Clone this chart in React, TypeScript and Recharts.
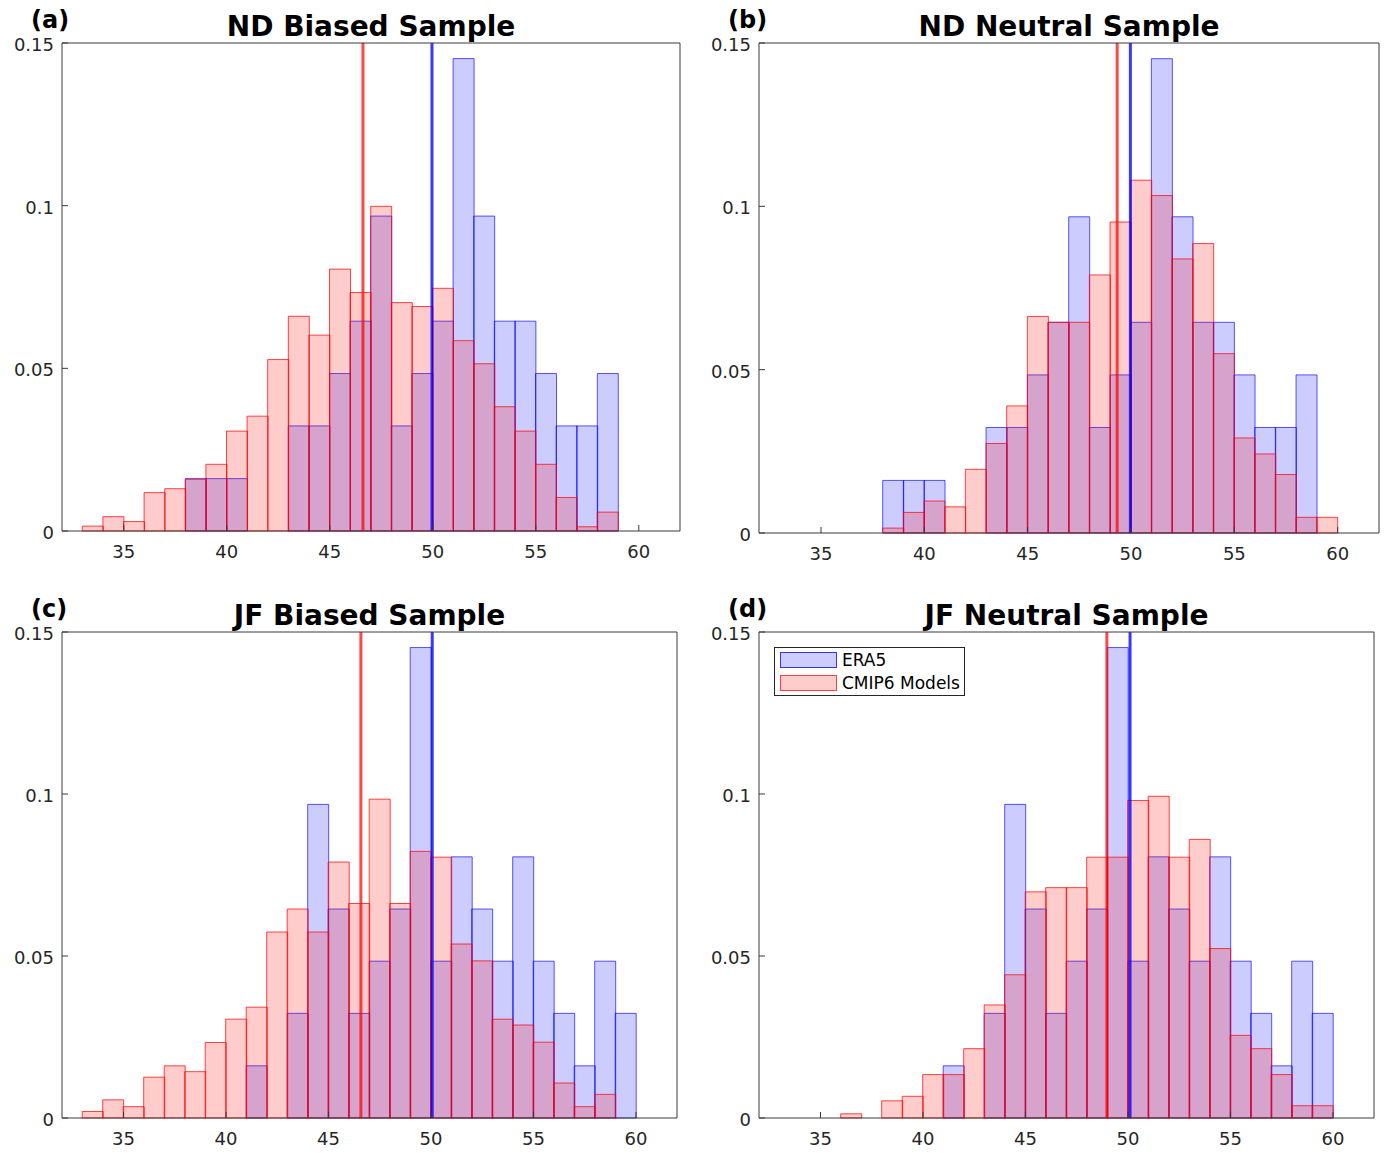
import React from 'react';
import { ComposedChart, Bar, XAxis, YAxis, ReferenceLine, Legend } from 'recharts';

// Histogram bins: lower edges (bin width 1)
const binStarts = [33, 34, 35, 36, 37, 38, 39, 40, 41, 42, 43, 44, 45, 46, 47, 48, 49, 50, 51, 52, 53, 54, 55, 56, 57, 58, 59];
const xTicks = [35, 40, 45, 50, 55, 60];
const yTicks = [0, 0.05, 0.1, 0.15];

// ERA5 (same observations in both samples of a season)
const era5ND = [null, null, null, null, null, 0.0161, 0.0161, 0.0161, null, null, 0.0323, 0.0323, 0.0484, 0.0645, 0.0968, 0.0323, 0.0484, 0.0645, 0.1452, 0.0968, 0.0645, 0.0645, 0.0484, 0.0323, 0.0323, 0.0484, null];
const era5JF = [null, null, null, null, null, null, null, null, 0.0161, null, 0.0323, 0.0968, 0.0645, 0.0323, 0.0484, 0.0645, 0.1452, 0.0484, 0.0806, 0.0645, 0.0484, 0.0806, 0.0484, 0.0323, 0.0161, 0.0484, 0.0323];

// CMIP6 models
const cmipNDBiased = [0.0015, 0.0044, 0.0029, 0.0118, 0.013, 0.0159, 0.0205, 0.0307, 0.0353, 0.0527, 0.066, 0.0602, 0.0805, 0.0733, 0.0998, 0.0702, 0.069, 0.0746, 0.0585, 0.0514, 0.0382, 0.0307, 0.0205, 0.0103, 0.0013, 0.0058, null];
const cmipNDNeutral = [null, null, null, null, null, 0.0015, 0.0063, 0.0098, 0.008, 0.0195, 0.0274, 0.0389, 0.0663, 0.0645, 0.0645, 0.079, 0.0952, 0.108, 0.1033, 0.0839, 0.0886, 0.0549, 0.0291, 0.0242, 0.0179, 0.0048, 0.0048];
const cmipJFBiased = [0.002, 0.0056, 0.0035, 0.0126, 0.0161, 0.0143, 0.0233, 0.0305, 0.0342, 0.0574, 0.0645, 0.0574, 0.079, 0.0662, 0.0984, 0.0662, 0.0823, 0.0805, 0.0537, 0.0485, 0.0305, 0.0287, 0.0234, 0.0108, 0.0035, 0.0073, null];
const cmipJFNeutral = [null, null, null, 0.0013, null, 0.0053, 0.0067, 0.0134, 0.0134, 0.0214, 0.0349, 0.0442, 0.0698, 0.0711, 0.0711, 0.0805, 0.0805, 0.098, 0.0993, 0.0805, 0.086, 0.0523, 0.0255, 0.0214, 0.0134, 0.0038, 0.0038];

// Sample means (vertical lines)
const meansCmip = [46.61, 49.33, 46.58, 48.97];
const meansEra5 = [49.96, 49.97, 50.06, 50.1];

const panelTitles = ['ND Biased Sample', 'ND Neutral Sample', 'JF Biased Sample', 'JF Neutral Sample'];
const panelLetters = ['(a)', '(b)', '(c)', '(d)'];

const FONT = 'DejaVu Sans';
const AXIS = '#3a3a3a';
const TEXT = '#262626';

const buildRows = (era: (number | null)[], cmip: (number | null)[]) =>
  binStarts.map((b, i) => ({ x: b + 0.5, era5: era[i], cmip: cmip[i] }));

const panelData = [
  buildRows(era5ND, cmipNDBiased),
  buildRows(era5ND, cmipNDNeutral),
  buildRows(era5JF, cmipJFBiased),
  buildRows(era5JF, cmipJFNeutral),
];

const layouts = [
  { left: 0, top: 0, width: 695, height: 576, margin: { top: 42, left: 61, right: 14, bottom: 15 } },
  { left: 695, top: 0, width: 696, height: 576, margin: { top: 42, left: 63, right: 11, bottom: 13 } },
  { left: 0, top: 576, width: 695, height: 577, margin: { top: 55, left: 61, right: 17, bottom: 5 } },
  { left: 695, top: 576, width: 696, height: 577, margin: { top: 55, left: 63, right: 16, bottom: 5 } },
];

const titlePos = [
  { lx: 31, ly: 28, tx: 371, ty: 36 },
  { lx: 728, ly: 28, tx: 1069, ty: 36 },
  { lx: 31, ly: 617, tx: 369.5, ty: 625 },
  { lx: 728, ly: 617, tx: 1066.5, ty: 625 },
];

const LegendBox = (props: any) => {
  const payload = props.payload || [];
  const styles: Record<string, { bg: string; border: string }> = {
    era5: { bg: '#ccccff', border: 'rgba(0,0,255,0.75)' },
    cmip: { bg: '#ffcccc', border: 'rgba(255,0,0,0.7)' },
  };
  const order = ['era5', 'cmip'];
  const items = order
    .map((k) => payload.find((p: any) => p.dataKey === k))
    .filter(Boolean);
  return (
    <div
      style={{
        position: 'relative',
        width: 189,
        height: 47,
        border: '1px solid #262626',
        background: '#ffffff',
        fontFamily: FONT,
      }}
    >
      {items.map((it: any, i: number) => {
        const s = styles[it.dataKey];
        return (
          <div key={it.dataKey} style={{ position: 'absolute', left: 0, top: 3 + i * 22.5, height: 17, width: 189 }}>
            <div
              style={{
                position: 'absolute',
                left: 5,
                top: 1,
                width: 55,
                height: 14,
                background: s.bg,
                border: `1.5px solid ${s.border}`,
              }}
            />
            <span
              style={{
                position: 'absolute',
                left: 67,
                top: -1,
                fontSize: 17,
                lineHeight: '20px',
                color: '#000',
                whiteSpace: 'nowrap',
              }}
            >
              {it.value}
            </span>
          </div>
        );
      })}
    </div>
  );
};

function Panel({ idx }: { idx: number }) {
  const L = layouts[idx];
  return (
    <div style={{ position: 'absolute', left: L.left, top: L.top }}>
      <ComposedChart
        width={L.width}
        height={L.height}
        data={panelData[idx]}
        margin={L.margin}
        barGap={0}
        barCategoryGap={-0.3}
        style={{ fontFamily: FONT }}
      >
        <XAxis
          xAxisId="b"
          dataKey="x"
          type="number"
          orientation="bottom"
          domain={[32, 62]}
          ticks={xTicks}
          interval={0}
          height={30}
          tickSize={-6}
          tickMargin={20}
          axisLine={{ stroke: AXIS, strokeWidth: 1 }}
          tickLine={{ stroke: AXIS, strokeWidth: 1 }}
          tick={{ fontSize: 18, fill: TEXT, fontFamily: FONT }}
        />
        <XAxis
          xAxisId="t"
          dataKey="x"
          type="number"
          orientation="top"
          domain={[32, 62]}
          ticks={xTicks}
          interval={0}
          height={1}
          tickSize={-6}
          axisLine={{ stroke: AXIS, strokeWidth: 1 }}
          tickLine={{ stroke: AXIS, strokeWidth: 1 }}
          tick={false}
        />
        <YAxis
          yAxisId="l"
          type="number"
          orientation="left"
          domain={[0, 0.15]}
          ticks={yTicks}
          interval={0}
          width={1}
          tickSize={-6}
          tickMargin={14}
          axisLine={{ stroke: AXIS, strokeWidth: 1 }}
          tickLine={{ stroke: AXIS, strokeWidth: 1 }}
          tick={{ fontSize: 18, fill: TEXT, fontFamily: FONT, dy: 1.5 }}
        />
        <YAxis
          yAxisId="r"
          type="number"
          orientation="right"
          domain={[0, 0.15]}
          ticks={yTicks}
          interval={0}
          width={1}
          tickSize={-6}
          axisLine={{ stroke: AXIS, strokeWidth: 1 }}
          tickLine={{ stroke: AXIS, strokeWidth: 1 }}
          tick={false}
        />
        <Bar
          xAxisId="b"
          yAxisId="l"
          dataKey="era5"
          name="ERA5"
          fill="#0000ff"
          fillOpacity={0.2}
          stroke="#0000ff"
          strokeOpacity={0.65}
          strokeWidth={1}
          isAnimationActive={false}
        />
        <Bar
          xAxisId="t"
          yAxisId="l"
          dataKey="cmip"
          name="CMIP6 Models"
          fill="#ff0000"
          fillOpacity={0.2}
          stroke="#ff0000"
          strokeOpacity={0.72}
          strokeWidth={1}
          isAnimationActive={false}
        />
        <ReferenceLine
          xAxisId="b"
          yAxisId="l"
          x={meansCmip[idx]}
          stroke="#ff0000"
          strokeOpacity={0.72}
          strokeWidth={3}
        />
        <ReferenceLine
          xAxisId="b"
          yAxisId="l"
          x={meansEra5[idx]}
          stroke="#0000ff"
          strokeOpacity={0.78}
          strokeWidth={3}
        />
        {idx === 3 && (
          <Legend
            layout="vertical"
            align="center"
            verticalAlign="middle"
            wrapperStyle={{ left: 79, top: 71, width: 191, height: 49 }}
            content={<LegendBox />}
          />
        )}
      </ComposedChart>
    </div>
  );
}

export default function App() {
  return (
    <div
      style={{
        position: 'absolute',
        left: 0,
        top: 0,
        width: 1391,
        height: 1153,
        background: '#ffffff',
        fontFamily: FONT,
      }}
    >
      {[0, 1, 2, 3].map((i) => (
        <Panel key={i} idx={i} />
      ))}
      <svg
        width={1391}
        height={1153}
        style={{ position: 'absolute', left: 0, top: 0, pointerEvents: 'none' }}
      >
        {titlePos.map((p, i) => (
          <g key={i}>
            <text x={p.lx} y={p.ly} fontFamily={FONT} fontWeight="bold" fontSize={24} fill="#000">
              {panelLetters[i]}
            </text>
            <text x={p.tx} y={p.ty} fontFamily={FONT} fontWeight="bold" fontSize={28} fill="#000" textAnchor="middle">
              {panelTitles[i]}
            </text>
          </g>
        ))}
      </svg>
    </div>
  );
}
